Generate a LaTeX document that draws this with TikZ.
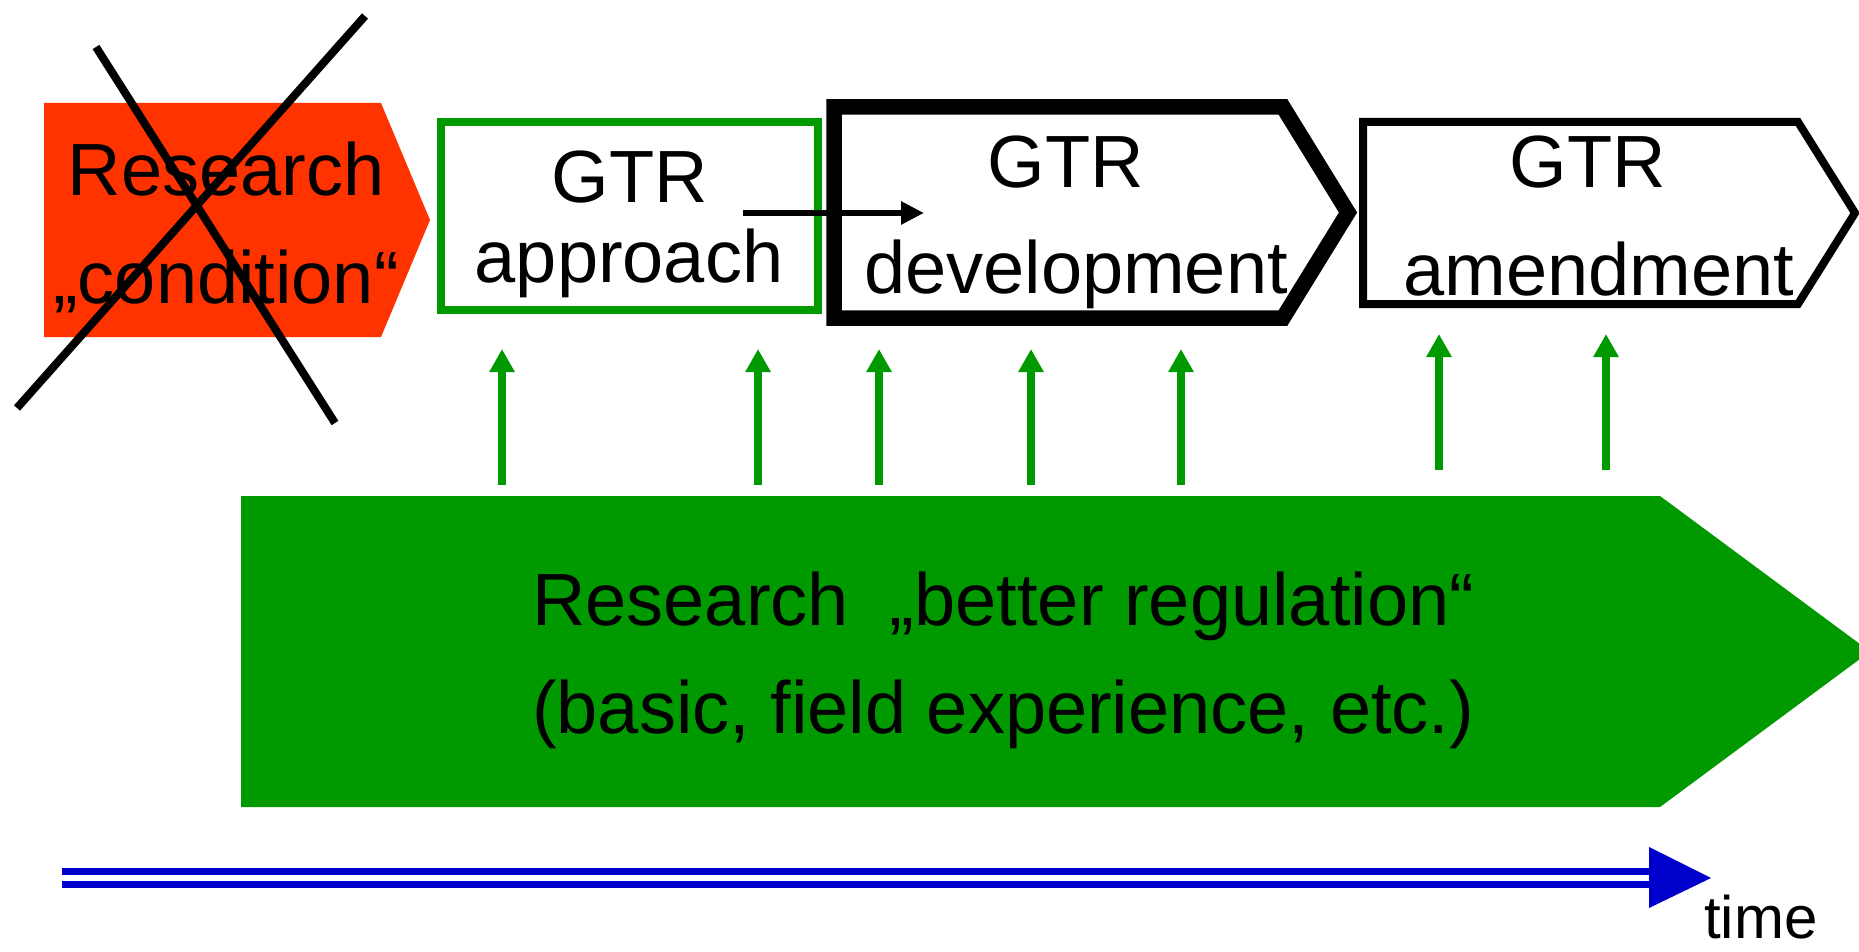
\documentclass[tikz,border=0pt]{standalone}
\usepackage{fontspec}
\setmainfont{Liberation Sans}
\usetikzlibrary{arrows.meta}
\definecolor{condred}{HTML}{FF3300}
\definecolor{regreen}{HTML}{009900}
\definecolor{timeblue}{HTML}{0000CC}
\tikzset{
  lbl/.style={inner sep=0pt, anchor=base, font=\fontsize{74}{74}\selectfont},
  biglbl/.style={inner sep=0pt, anchor=base west, font=\fontsize{74}{74}\selectfont},
  uparrow/.style={draw=regreen, line width=7.5pt, -{Triangle[length=23pt,width=24pt]}},
  crossline/.style={draw=black, line width=8pt},
  timeline/.style={draw=timeblue, line width=7pt},
}
\begin{document}
\begin{tikzpicture}[x=1pt,y=-1pt]
\useasboundingbox (0,0) rectangle (1859,952);
% Research "condition" (crossed out)
\fill[condred] (44,103) -- (381,103) -- (430,220) -- (381,337) -- (44,337) -- cycle;
\node[lbl] (rc1) at (226,195) {Research};
\node[lbl] (rc2) at (226,303) {„condition“};
\coordinate (x1a) at (96,47);  \coordinate (x1b) at (335,423);
\coordinate (x2a) at (365,16); \coordinate (x2b) at (17,408);
\draw[crossline] (x1a) -- (x1b);
\draw[crossline] (x2a) -- (x2b);
% GTR approach
\draw[regreen, line width=7.5pt] (441,122) rectangle (818,310);
\node[lbl] (ap1) at (630,202) {GTR};
\node[lbl] (ap2) at (629,282) {approach};
% GTR development
\draw[line width=15.5pt, line join=miter] (834,107) -- (1283,107) -- (1348,212.5) -- (1283,318) -- (834,318) -- cycle;
\node[lbl] (dv1) at (1066,187) {GTR};
\node[lbl] (dv2) at (1076,293) {development};
% GTR amendment
\draw[line width=8pt, line join=miter] (1363,122) -- (1798,122) -- (1855,213) -- (1798,304) -- (1363,304) -- cycle;
\node[lbl] (am1) at (1588,187) {GTR};
\node[lbl] (am2) at (1599,295) {amendment};
% arrow approach -> development
\coordinate (ba1) at (743,213);
\coordinate (ba2) at (924,213);
\draw[line width=6pt, -{Triangle[length=23pt,width=22pt]}] (ba1) -- (ba2);
% Research "better regulation"
\fill[regreen] (241,496) -- (1660,496) -- (1870,651.5) -- (1660,807) -- (241,807) -- cycle;
\node[biglbl] (br1) at (532,625) {Research\ \ „better regulation“};
\node[biglbl] (br2) at (532,733) {(basic, field experience, etc.)};
% green arrows
\foreach \i/\x in {1/502,2/758,3/879,4/1031,5/1181}{
  \coordinate (gs\i) at (\x,485);
  \coordinate (gt\i) at (\x,349);
  \draw[uparrow] (gs\i) -- (gt\i);
}
\foreach \i/\x in {6/1439,7/1606}{
  \coordinate (gs\i) at (\x,470);
  \coordinate (gt\i) at (\x,334);
  \draw[uparrow] (gs\i) -- (gt\i);
}
% time axis
\coordinate (t1a) at (62,871.5);  \coordinate (t1b) at (1652,871.5);
\coordinate (t2a) at (62,884.5);  \coordinate (t2b) at (1652,884.5);
\draw[timeline] (t1a) -- (t1b);
\draw[timeline] (t2a) -- (t2b);
\fill[timeblue] (1649,847) -- (1711,878) -- (1649,908) -- cycle;
\node[inner sep=0pt, text depth=0pt, anchor=base west, font=\fontsize{60}{60}\selectfont] (tm) at (1704,938) {time};
\end{tikzpicture}
\end{document}
